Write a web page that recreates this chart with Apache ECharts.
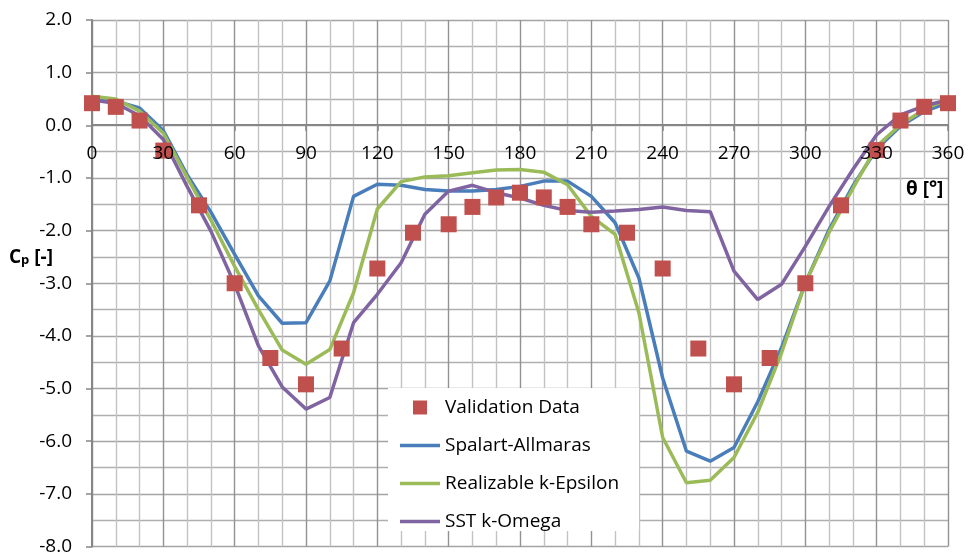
<!DOCTYPE html>
<html>
<head>
<meta charset="utf-8">
<script src="https://cdn.jsdelivr.net/npm/echarts@6/dist/echarts.min.js"></script>
<style>
  html, body { margin: 0; padding: 0; background: #fff; }
  #chart { width: 968px; height: 556px; }
</style>
</head>
<body>
<div id="chart"></div>
<script>
// Pressure coefficient around a cylinder: measured points and three turbulence models
const thetaMeasured = [0, 10, 20, 30, 45, 60, 75, 90, 105, 120, 135, 150, 160, 170, 180,
  190, 200, 210, 225, 240, 255, 270, 285, 300, 315, 330, 340, 350, 360];
const cpMeasured = [0.42, 0.35, 0.09, -0.48, -1.52, -3.00, -4.42, -4.92, -4.24, -2.72, -2.04, -1.88, -1.55, -1.37, -1.28,
  -1.37, -1.55, -1.88, -2.04, -2.72, -4.24, -4.92, -4.42, -3.00, -1.52, -0.47, 0.09, 0.35, 0.42];

const thetaModel = [0, 10, 20, 30, 40, 50, 60, 70, 80, 90, 100, 110, 120, 130, 140, 150, 160, 170, 180,
  190, 200, 210, 220, 230, 240, 250, 260, 270, 280, 290, 300, 310, 320, 330, 340, 350, 360];
const cpSpalart = [0.50, 0.46, 0.33, -0.10, -0.94, -1.65, -2.45, -3.24, -3.76, -3.75, -2.96, -1.35, -1.12, -1.14, -1.22, -1.25, -1.25, -1.22, -1.16,
  -1.06, -1.06, -1.35, -1.85, -2.90, -4.80, -6.19, -6.38, -6.12, -5.25, -4.22, -3.00, -1.98, -1.15, -0.45, -0.02, 0.26, 0.43];
const cpRealizable = [0.55, 0.50, 0.27, -0.15, -0.99, -1.80, -2.68, -3.50, -4.27, -4.54, -4.26, -3.18, -1.59, -1.07, -0.98, -0.96, -0.90, -0.85, -0.84,
  -0.89, -1.13, -1.73, -2.07, -3.56, -5.93, -6.79, -6.74, -6.31, -5.45, -4.32, -3.00, -2.03, -1.20, -0.40, 0.01, 0.30, 0.50];
const cpSST = [0.48, 0.42, 0.18, -0.27, -1.16, -2.01, -3.02, -4.19, -4.97, -5.39, -5.17, -3.75, -3.21, -2.61, -1.69, -1.25, -1.14, -1.28, -1.38,
  -1.52, -1.62, -1.65, -1.63, -1.60, -1.55, -1.62, -1.64, -2.77, -3.31, -3.02, -2.30, -1.54, -0.84, -0.18, 0.20, 0.37, 0.48];

const seriesNames = ['Validation Data', 'Spalart-Allmaras', 'Realizable k-Epsilon', 'SST k-Omega'];
const FONT = '"Open Sans", "Noto Sans", sans-serif';

// plot frame
const GRID = { left: 92, right: 20, top: 20, bottom: 9 };
const Y_MIN = -8, Y_MAX = 2;
const X_MIN = 0, X_MAX = 360, X_STEP = 30;
const plotHeight = 556 - GRID.top - GRID.bottom;
// the theta axis sits on the Cp = 0 line, measured up from the bottom edge of the frame
const xAxisLift = -plotHeight * (0 - Y_MIN) / (Y_MAX - Y_MIN);

function pairs(xs, ys) { return xs.map((x, i) => [x, ys[i]]); }

const chart = echarts.init(document.getElementById('chart'), null, { renderer: 'canvas' });

function lineSeries(name, values, color, z) {
  return {
    name: name,
    type: 'line',
    data: pairs(thetaModel, values),
    symbol: 'none',
    showSymbol: false,
    smooth: false,
    z: z,
    lineStyle: { color: color, width: 3.5 },
    itemStyle: { color: color },
    emphasis: { disabled: true },
    animation: false
  };
}

const lineIcon = 'path://M0,0h40v3.5h-40z';

chart.setOption({
  animation: false,
  backgroundColor: '#ffffff',
  grid: { left: GRID.left, right: GRID.right, top: GRID.top, bottom: GRID.bottom, containLabel: false },
  xAxis: [
    {
      // grid lines, axis line and ticks, drawn beneath the curves
      type: 'value',
      position: 'bottom',
      offset: xAxisLift,
      min: X_MIN, max: X_MAX, interval: X_STEP,
      axisLine: { show: true, onZero: false, lineStyle: { color: '#868686', width: 2 } },
      axisTick: { show: true, length: 6, inside: false, lineStyle: { color: '#868686', width: 1.5 } },
      axisLabel: { show: false },
      splitLine: { show: true, lineStyle: { color: '#929292', width: 1.4 } },
      minorTick: { show: false, splitNumber: 3 },
      minorSplitLine: { show: true, lineStyle: { color: '#c2c2c2', width: 1.4 } }
    },
    {
      // tick labels, drawn above the markers
      type: 'value',
      position: 'bottom',
      offset: xAxisLift,
      z: 20,
      min: X_MIN, max: X_MAX, interval: X_STEP,
      axisLine: { show: false, onZero: false },
      axisTick: { show: false },
      splitLine: { show: false },
      axisLabel: { margin: 19, color: '#000', fontSize: 19, fontFamily: FONT, showMinLabel: true, showMaxLabel: true }
    }
  ],
  yAxis: {
    type: 'value',
    min: Y_MIN, max: Y_MAX, interval: 1,
    axisLine: { show: true, onZero: false, lineStyle: { color: '#868686', width: 2 } },
    axisTick: { show: true, length: 6, lineStyle: { color: '#868686', width: 1.5 } },
    axisLabel: { margin: 20, color: '#000', fontSize: 19, fontFamily: FONT, formatter: v => v.toFixed(1) },
    splitLine: { show: true, lineStyle: { color: '#a4a4a4', width: 1.4 } },
    minorTick: { show: false, splitNumber: 2 },
    minorSplitLine: { show: true, lineStyle: { color: '#afafaf', width: 1.4 } }
  },
  legend: {
    orient: 'vertical',
    left: 388, top: 388,
    padding: [10, 20, 0, 12],
    backgroundColor: '#ffffff',
    itemWidth: 40, itemHeight: 14, itemGap: 19,
    symbolKeepAspect: true,
    textStyle: { color: '#000', fontSize: 19, fontFamily: FONT },
    data: [
      { name: seriesNames[0], icon: 'path://M0,0h10v10h-10z' },
      { name: seriesNames[1], icon: lineIcon },
      { name: seriesNames[2], icon: lineIcon },
      { name: seriesNames[3], icon: lineIcon }
    ]
  },
  graphic: [
    {
      type: 'text', left: 903, top: 179, z: 100,
      style: {
        text: 'θ [°]', fill: '#000', font: 'bold 19px ' + FONT,
        backgroundColor: '#fff', padding: [1, 3]
      }
    },
    {
      type: 'text', left: 9, top: 248, z: 100,
      style: {
        text: '{a|C}{b|p}{a| [-]}',
        fill: '#000',
        rich: {
          a: { fontSize: 19, fontWeight: 'bold', fontFamily: FONT, fill: '#000', verticalAlign: 'bottom', lineHeight: 26 },
          b: { fontSize: 13, fontWeight: 'bold', fontFamily: FONT, fill: '#000', verticalAlign: 'bottom', lineHeight: 20 }
        }
      }
    }
  ],
  series: [
    lineSeries(seriesNames[1], cpSpalart, '#4a7ebb', 2),
    lineSeries(seriesNames[2], cpRealizable, '#9bbb59', 3),
    lineSeries(seriesNames[3], cpSST, '#8064a2', 4),
    {
      name: seriesNames[0],
      type: 'scatter',
      data: pairs(thetaMeasured, cpMeasured),
      symbol: 'rect',
      symbolSize: 16,
      z: 5,
      itemStyle: { color: '#c0504d', opacity: 1 },
      emphasis: { disabled: true }
    }
  ]
});
</script>
</body>
</html>
